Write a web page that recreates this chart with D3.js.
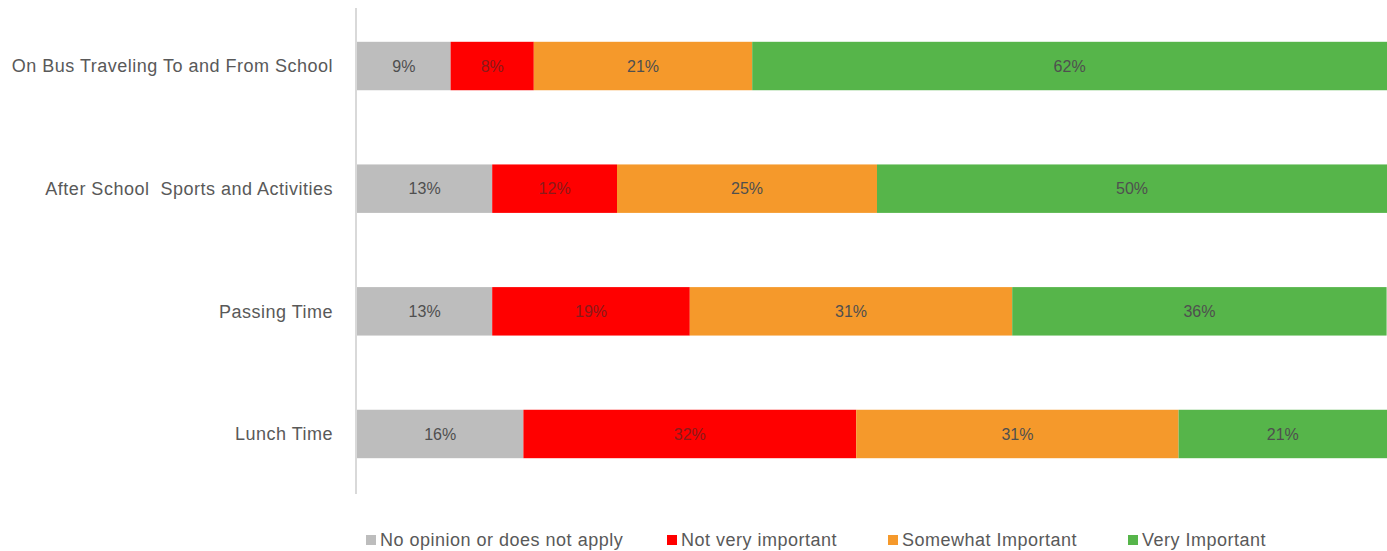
<!DOCTYPE html>
<html>
<head>
<meta charset="utf-8">
<script src="https://cdn.jsdelivr.net/npm/d3@7/dist/d3.min.js"></script>
<style>
  html, body { margin: 0; padding: 0; background: #ffffff; }
  svg { display: block; }
</style>
</head>
<body>
<svg id="chart" width="1387" height="551"></svg>
<script>
// Survey categories (top to bottom)
const categories = [
  "On Bus Traveling To and From School",
  "After School  Sports and Activities",
  "Passing Time",
  "Lunch Time"
];

// Response series, in stacking order (left to right)
const seriesNames = [
  "No opinion or does not apply",
  "Not very important",
  "Somewhat Important",
  "Very Important"
];

// Percentages per series, one value per category
const noOpinion     = [9, 13, 13, 16];
const notImportant  = [8, 12, 19, 32];
const somewhat      = [21, 25, 31, 31];
const veryImportant = [62, 50, 36, 21];

const seriesColors = ["#BDBDBD", "#FF0000", "#F5992B", "#56B54A"];
const labelColors  = ["#4f4f4f", "#8a1a1a", "#4f4f4f", "#4f4f4f"];

const seriesValues = [noOpinion, notImportant, somewhat, veryImportant];

// Build rows for d3.stack
const rows = categories.map((c, i) => {
  const r = { category: c };
  seriesNames.forEach((s, k) => { r[s] = seriesValues[k][i]; });
  return r;
});

const stacked = d3.stack().keys(seriesNames)(rows);

const svg = d3.select("#chart");
const fontFamily = "'Liberation Sans', Arial, sans-serif";

const x = d3.scaleLinear().domain([0, 100]).range([357, 1397]);
const y = d3.scaleBand()
  .domain(categories)
  .range([5, 495])
  .paddingInner(0.605)
  .paddingOuter(0.3);

// Category axis line
svg.append("line")
  .attr("x1", 356).attr("x2", 356)
  .attr("y1", 8).attr("y2", 494)
  .attr("stroke", "#d9d9d9")
  .attr("stroke-width", 2);

// Bars
const layer = svg.append("g").selectAll("g")
  .data(stacked)
  .join("g")
  .attr("fill", (d, i) => seriesColors[i]);

layer.selectAll("rect")
  .data(d => d)
  .join("rect")
  .attr("x", d => x(d[0]))
  .attr("y", d => y(d.data.category))
  .attr("width", d => x(d[1]) - x(d[0]))
  .attr("height", y.bandwidth());

// Value labels
const labelLayer = svg.append("g").selectAll("g")
  .data(stacked)
  .join("g")
  .attr("fill", (d, i) => labelColors[i]);

labelLayer.selectAll("text")
  .data(d => d.map(v => ({ v, key: d.key })))
  .join("text")
  .attr("x", d => (x(d.v[0]) + Math.min(x(d.v[1]), 1387)) / 2)
  .attr("y", d => y(d.v.data.category) + y.bandwidth() / 2)
  .attr("dy", "0.35em")
  .attr("text-anchor", "middle")
  .attr("font-family", fontFamily)
  .attr("font-size", 16)
  .text(d => (d.v[1] - d.v[0]) + "%");

// Category labels
svg.append("g").selectAll("text")
  .data(categories)
  .join("text")
  .attr("x", 333)
  .attr("y", d => y(d) + y.bandwidth() / 2)
  .attr("dy", "0.35em")
  .attr("text-anchor", "end")
  .attr("fill", "#595959")
  .attr("font-family", fontFamily)
  .attr("font-size", 18)
  .attr("letter-spacing", 0.5)
  .style("white-space", "pre")
  .text(d => d);

// Legend
const legendX = [366, 667, 888, 1128];
const legend = svg.append("g").selectAll("g")
  .data(seriesNames)
  .join("g")
  .attr("transform", (d, i) => `translate(${legendX[i]},540)`);

legend.append("rect")
  .attr("x", 0).attr("y", -5)
  .attr("width", 10).attr("height", 10)
  .attr("fill", (d, i) => seriesColors[i]);

legend.append("text")
  .attr("x", 14)
  .attr("y", 0)
  .attr("dy", "0.35em")
  .attr("fill", "#595959")
  .attr("font-family", fontFamily)
  .attr("font-size", 18)
  .attr("letter-spacing", 0.5)
  .text(d => d);
</script>
</body>
</html>
